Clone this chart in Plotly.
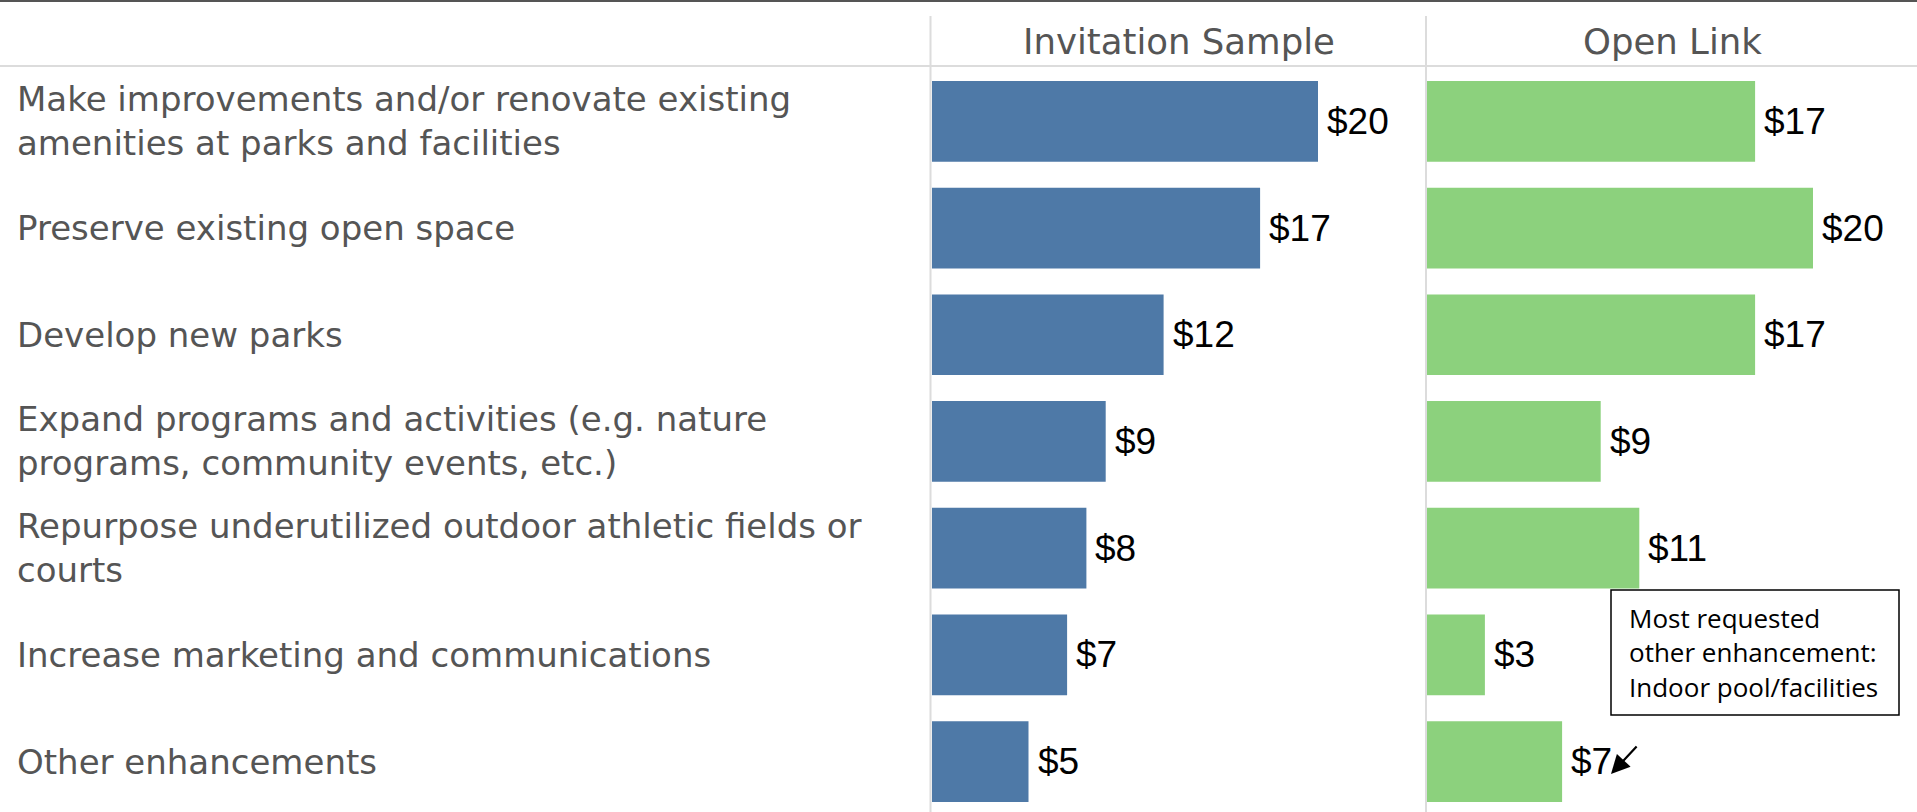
import plotly.graph_objects as go

# ---- data -------------------------------------------------------------
categories = [
    "Make improvements and/or renovate existing<br>amenities at parks and facilities",
    "Preserve existing open space",
    "Develop new parks",
    "Expand programs and activities (e.g. nature<br>programs, community events, etc.)",
    "Repurpose underutilized outdoor athletic fields or<br>courts",
    "Increase marketing and communications",
    "Other enhancements",
]
invitation_values = [20, 17, 12, 9, 8, 7, 5]
open_link_values = [17, 20, 17, 9, 11, 3, 7]
panel_titles = ["Invitation Sample", "Open Link"]
note_lines = ["Most requested", "other enhancement:", "Indoor pool/facilities"]

# ---- layout helpers (pixel -> paper) ----------------------------------
W, H = 1917, 812


def px(x):
    return x / W


def py(y):
    return 1 - y / H


BLUE = "#4E79A7"
GREEN = "#8CD17D"
LABEL_GRAY = "#555555"
RULE_GRAY = "#dcdcdc"
LABEL_FONT = "DejaVu Sans, Verdana, sans-serif"
VALUE_FONT = "Liberation Sans, Arial, sans-serif"
NOTE_FONT = "Open Sans, Noto Sans, sans-serif"

PX_PER_UNIT = 19.3
P1_LEFT, P1_RIGHT = 932, 1425
P2_LEFT, P2_RIGHT = 1427, 1917
ROW_TOP = 68          # pixel where the first row band starts
ROW_PITCH = 106.7     # pixel height of one row band
BAR_WIDTH = 0.756

fig = go.Figure()
fig.add_trace(go.Bar(
    y=categories, x=invitation_values, orientation="h",
    marker=dict(color=BLUE, line=dict(width=0)), width=BAR_WIDTH,
    xaxis="x", yaxis="y", hoverinfo="skip", name=panel_titles[0],
))
fig.add_trace(go.Bar(
    y=categories, x=open_link_values, orientation="h",
    marker=dict(color=GREEN, line=dict(width=0)), width=BAR_WIDTH,
    xaxis="x2", yaxis="y", hoverinfo="skip", name=panel_titles[1],
))

annotations = []

# value labels to the right of each bar
for axis, values in (("x", invitation_values), ("x2", open_link_values)):
    for cat, v in zip(categories, values):
        annotations.append(dict(
            x=v, y=cat, xref=axis, yref="y", text=f"${v}",
            xanchor="left", yanchor="middle", xshift=7, showarrow=False,
            font=dict(family=VALUE_FONT, size=37, color="black"),
        ))

# category labels, left aligned at the page edge
for cat in categories:
    annotations.append(dict(
        x=px(15), y=cat, xref="paper", yref="y", text=cat,
        xanchor="left", yanchor="middle", align="left", showarrow=False,
        font=dict(family=LABEL_FONT, size=34, color=LABEL_GRAY),
    ))

# panel headers
for axis, title in (("x", panel_titles[0]), ("x2", panel_titles[1])):
    annotations.append(dict(
        x=0.5, y=py(42), xref=f"{axis} domain", yref="paper", text=title,
        xanchor="center", yanchor="middle", showarrow=False,
        font=dict(family=LABEL_FONT, size=35.5, color=LABEL_GRAY),
    ))

# call-out box text
for i, line in enumerate(note_lines):
    annotations.append(dict(
        x=px(1627), y=py(617.5 + 34.5 * i), xref="paper", yref="paper", text=line,
        xanchor="left", yanchor="middle", showarrow=False,
        font=dict(family=NOTE_FONT, size=26, color="black"),
    ))

# arrow pointing at the "Other enhancements" open-link label
annotations.append(dict(
    x=px(1611), y=py(774), xref="paper", yref="paper", text="",
    showarrow=True, ax=27, ay=-29, axref="pixel", ayref="pixel",
    arrowhead=2, arrowsize=1.7, arrowwidth=2.2, arrowcolor="black", standoff=0,
))

shapes = [
    # dark rule along the top edge
    dict(type="line", xref="paper", yref="paper", x0=0, x1=1, y0=py(1), y1=py(1),
         line=dict(color="#555555", width=2)),
    # header separator
    dict(type="line", xref="paper", yref="paper", x0=0, x1=1, y0=py(66), y1=py(66),
         line=dict(color=RULE_GRAY, width=2)),
    # panel dividers
    dict(type="line", xref="paper", yref="paper", x0=px(930.5), x1=px(930.5),
         y0=py(16), y1=0, line=dict(color=RULE_GRAY, width=2)),
    dict(type="line", xref="paper", yref="paper", x0=px(1426), x1=px(1426),
         y0=py(16), y1=0, line=dict(color=RULE_GRAY, width=2)),
    # call-out box
    dict(type="rect", xref="paper", yref="paper", x0=px(1611), x1=px(1899),
         y0=py(715), y1=py(590), line=dict(color="black", width=1.5),
         fillcolor="white", layer="above"),
]

y_bottom = -0.5 + (H - ROW_TOP) / ROW_PITCH

hidden = dict(showgrid=False, zeroline=False, showline=False, showticklabels=False, ticks="")

fig.update_layout(
    width=W, height=H,
    margin=dict(l=0, r=0, t=0, b=0),
    paper_bgcolor="white", plot_bgcolor="white",
    showlegend=False, barmode="group",
    xaxis=dict(domain=[px(P1_LEFT), px(P1_RIGHT)],
               range=[0, (P1_RIGHT - P1_LEFT) / PX_PER_UNIT], anchor="y", **hidden),
    xaxis2=dict(domain=[px(P2_LEFT), px(P2_RIGHT)],
                range=[0, (P2_RIGHT - P2_LEFT) / PX_PER_UNIT], anchor="y", **hidden),
    yaxis=dict(domain=[0, py(ROW_TOP)], type="category",
               categoryorder="array", categoryarray=categories,
               range=[y_bottom, -0.5], **hidden),
    annotations=annotations,
    shapes=shapes,
)

fig.write_html("out.html", config={"displayModeBar": False})
